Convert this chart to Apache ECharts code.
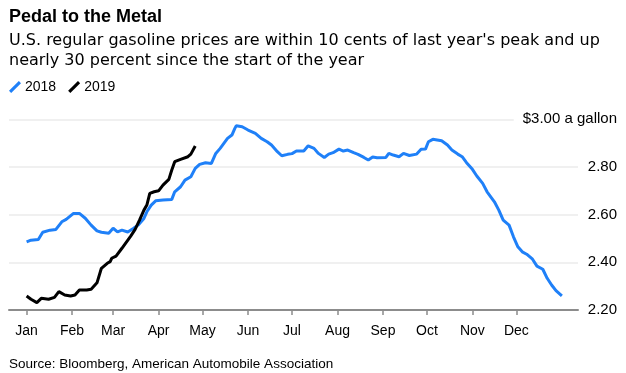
<!DOCTYPE html>
<html><head><meta charset="utf-8">
<script src="https://cdn.jsdelivr.net/npm/echarts@6/dist/echarts.min.js"></script>
<style>html,body{margin:0;padding:0;background:#fff}#c{width:626px;height:373px}</style>
</head><body><div id="c"></div>
<script>
// Day-of-year positions of month starts and their labels
const monthStarts = [0, 31, 59, 90, 120, 151, 181, 212, 243, 273, 304, 334];
const monthLabels = ['Jan','Feb','Mar','Apr','May','Jun','Jul','Aug','Sep','Oct','Nov','Dec'];
const yTicks = [2.2, 2.4, 2.6, 2.8, 3.0];

// 2018 regular gasoline price (day of year, $/gallon)
const days2018 = [0,3,8,11,16,20,24,27,32,36,40,44,48,51,56,59,62,65,69,73,76,80,82,85,88,93,99,101,105,108,112,115,118,122,126,129,132,137,140,142,143,147,151,156,160,164,167,171,174,178,181,184,189,192,196,199,203,206,209,213,216,219,223,226,230,233,236,239,245,247,250,254,257,261,266,269,272,274,277,280,283,287,290,294,297,300,304,307,311,314,319,322,325,329,332,335,338,341,345,348,352,355,358,361,365];
const prices2018 = [2.486,2.493,2.496,2.526,2.535,2.538,2.570,2.580,2.605,2.605,2.585,2.556,2.532,2.526,2.522,2.543,2.528,2.535,2.527,2.543,2.556,2.584,2.612,2.640,2.658,2.661,2.664,2.696,2.717,2.745,2.759,2.794,2.811,2.818,2.815,2.857,2.878,2.920,2.934,2.962,2.973,2.969,2.955,2.941,2.920,2.906,2.892,2.864,2.847,2.853,2.856,2.867,2.867,2.889,2.878,2.857,2.840,2.854,2.860,2.875,2.867,2.871,2.860,2.853,2.840,2.829,2.842,2.839,2.840,2.857,2.850,2.843,2.857,2.848,2.854,2.874,2.875,2.906,2.916,2.913,2.910,2.892,2.871,2.854,2.843,2.818,2.790,2.762,2.731,2.696,2.654,2.619,2.577,2.556,2.507,2.465,2.444,2.434,2.413,2.384,2.371,2.333,2.305,2.281,2.259];

// 2019 regular gasoline price (day of year, $/gallon)
const days2019 = [0,3,7,10,15,19,22,26,30,33,36,41,44,48,51,55,57,58,61,65,71,74,77,80,82,84,87,90,93,97,99,101,105,110,112,115];
const prices2019 = [2.259,2.245,2.231,2.249,2.245,2.253,2.277,2.263,2.259,2.263,2.284,2.284,2.287,2.314,2.375,2.396,2.403,2.417,2.426,2.459,2.510,2.538,2.577,2.619,2.640,2.689,2.696,2.700,2.724,2.748,2.787,2.822,2.832,2.843,2.854,2.888];

const FONT = "'Liberation Sans', Arial, sans-serif";
const WIDE = "'DejaVu Sans', 'Liberation Sans', sans-serif";
const zip = (a, b) => a.map((d, i) => [d, b[i]]);

const chart = echarts.init(document.getElementById('c'), null, {renderer: 'canvas'});
chart.setOption({
  animation: false,
  backgroundColor: '#fff',
  textStyle: {fontFamily: FONT},
  title: [{
    text: 'Pedal to the Metal',
    subtext: "U.S. regular gasoline prices are within 10 cents of last year's peak and up\nnearly 30 percent since the start of the year",
    left: 9, top: 8.5, padding: 0, itemGap: 5,
    textStyle: {fontFamily: FONT, fontSize: 18, fontWeight: 'bold', color: '#000'},
    subtextStyle: {fontFamily: WIDE, fontSize: 16, color: '#000', lineHeight: 19.3}
  }, {
    text: 'Source: Bloomberg, American Automobile Association',
    left: 9, top: 357, padding: 0,
    textStyle: {fontFamily: FONT, fontSize: 13.5, fontWeight: 'normal', color: '#000'}
  }],
  legend: {
    data: ['2018', '2019'],
    left: 9, top: 80, padding: 0,
    itemWidth: 12, itemHeight: 12, itemGap: 12,
    icon: 'path://M0,9 L9,0 L11,2 L2,11 Z',
    textStyle: {fontFamily: FONT, fontSize: 14, color: '#000', padding: [0, 0, 0, -1]}
  },
  grid: {left: 9, right: 48, top: 119.3, bottom: 63, containLabel: false, outerBoundsMode: 'none'},
  xAxis: {
    type: 'value', min: -12, max: 376,
    splitLine: {show: false},
    axisLine: {show: true, lineStyle: {color: '#8c8c8c', width: 2}},
    axisTick: {show: true, customValues: monthStarts, length: 5, lineStyle: {color: '#8c8c8c', width: 1.5}},
    axisLabel: {
      customValues: monthStarts, margin: 14, fontSize: 14, color: '#000', fontFamily: FONT,
      formatter: v => monthLabels[monthStarts.indexOf(v)] || ''
    }
  },
  yAxis: {
    type: 'value', position: 'right', min: 2.2, max: 3.0, interval: 0.2,
    axisLine: {show: false}, axisTick: {show: false},
    splitLine: {show: true, lineStyle: {color: '#ebebeb', width: 1.5}},
    axisLabel: {
      margin: 39, align: 'right', fontSize: 15, color: '#000', fontFamily: FONT,
      formatter: v => Math.abs(v - 3.0) < 1e-6 ? '{g|$3.00 a gallon}' : v.toFixed(2),
      rich: {g: {fontSize: 15, color: '#000', fontFamily: FONT, backgroundColor: '#fff', padding: [3, 0, 3, 9]}}
    }
  },
  series: [{
    name: '2018', type: 'line', data: zip(days2018, prices2018),
    showSymbol: false, symbol: 'none', color: '#1f80f8',
    lineStyle: {color: '#1f80f8', width: 3}, z: 2
  }, {
    name: '2019', type: 'line', data: zip(days2019, prices2019),
    showSymbol: false, symbol: 'none', color: '#000',
    lineStyle: {color: '#000', width: 3}, z: 3
  }]
});
</script>
</body></html>
